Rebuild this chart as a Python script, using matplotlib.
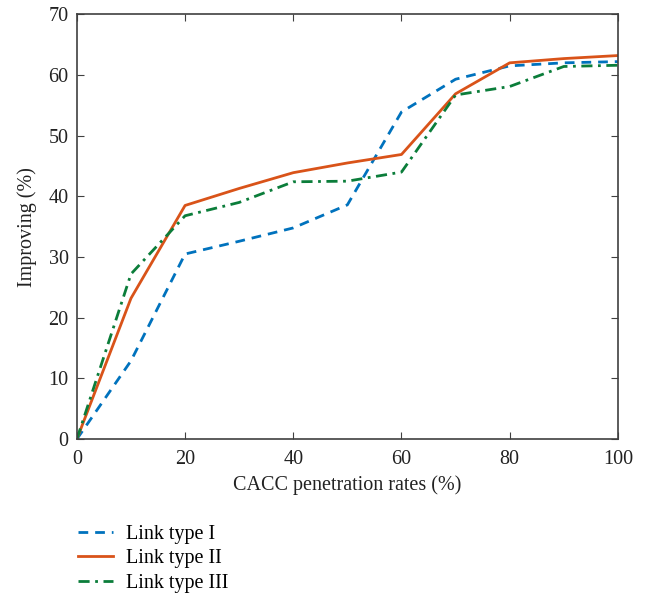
import matplotlib
matplotlib.use("Agg")
import matplotlib.pyplot as plt

plt.rcParams['font.family'] = ['Liberation Serif', 'DejaVu Serif']

# dados
taxa = [0, 10, 20, 30, 40, 50, 60, 70, 80, 90, 100]
link_1 = [0, 12.9, 30.5, 32.6, 34.8, 38.6, 53.9, 59.3, 61.5, 62.0, 62.2]
link_2 = [0, 23.2, 38.5, 41.3, 43.9, 45.5, 46.9, 56.9, 62.0, 62.7, 63.2]
link_3 = [0, 27.2, 36.8, 39.0, 42.4, 42.5, 44.0, 56.7, 58.1, 61.4, 61.6]
nomes = ['Link type I', 'Link type II', 'Link type III']

fig = plt.figure(figsize=(6.46, 5.95), dpi=100)
ax = fig.add_axes([0.119, 0.262, 0.8375, 0.714])

ax.plot(taxa, link_1, color='#0072BD', lw=2, ls=(0, (3.5, 2.5)), label=nomes[0])
ax.plot(taxa, link_2, color='#D95319', lw=2, ls='-', label=nomes[1])
ax.plot(taxa, link_3, color='#0b7d3a', lw=2, ls=(0, (4, 2, 1, 2)), label=nomes[2])

ax.set_xlim(0, 100)
ax.set_ylim(0, 70)
ax.set_xticks(range(0, 101, 20))
ax.set_yticks(range(0, 71, 10))
ax.tick_params(direction='in', top=True, right=True, labelsize=14.5,
               length=5, color='#404040', labelcolor='#222222')
ax.tick_params(axis='x', pad=8)
ax.tick_params(axis='y', pad=6)
for s in ax.spines.values():
    s.set_color('#404040')
    s.set_linewidth(1.2)

ax.set_xlabel('CACC penetration rates (%)', fontsize=14.5, color='#222222', labelpad=4)
ax.set_ylabel('Improving (%)', fontsize=14.5, color='#222222', labelpad=8)

fig.legend(loc='upper left', bbox_to_anchor=(0.12, 0.118), frameon=False,
           fontsize=14.5, handlelength=1.75, labelspacing=0.26, handletextpad=0.65,
           borderaxespad=0, borderpad=0)

fig.savefig('out.png', dpi=100)
